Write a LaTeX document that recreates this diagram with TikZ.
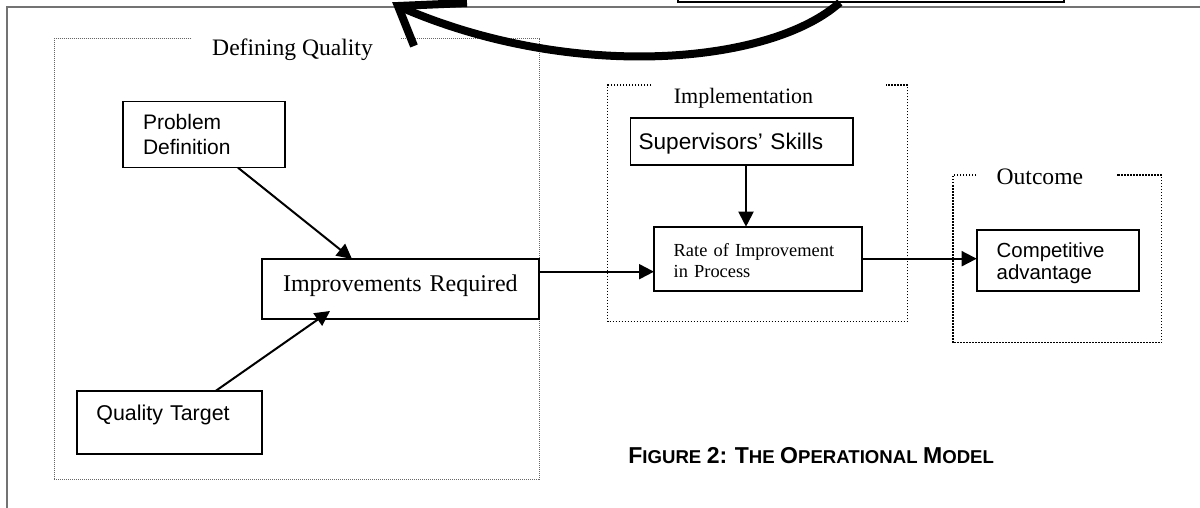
\documentclass[tikz,border=0pt]{standalone}
\usepackage{fontspec}
\setmainfont{Liberation Serif}
\newfontfamily\arial{Liberation Sans}
\usetikzlibrary{arrows.meta,calc}
\newcommand\fsz[2]{\fontsize{#1pt}{#2pt}\selectfont}
\newcommand\capsc[2]{{\fsz{11.5}{13}#1}{\fsz{9.3}{13}#2}}
\begin{document}
\begin{tikzpicture}[x=0.5pt,y=-0.5pt,
  box/.style={draw,line width=0.8pt,inner ysep=0pt,outer sep=0pt,anchor=north west,align=left},
  conn/.style={line width=1pt,-{Triangle[length=7.5pt,width=7.5pt]}},
  frameline/.style={draw=black!55,line width=1pt},
  dqbox/.style={draw=black!60,line width=0.5pt,dash pattern=on 0.5pt off 0.5pt},
  dotbox/.style={draw=black,line width=0.75pt,dash pattern=on 0.75pt off 0.75pt},
  title/.style={anchor=base,inner sep=0pt},
  bigline/.style={line width=4pt},
  bighead/.style={line width=4pt,line join=miter,miter limit=10}
]
\useasboundingbox (0,0) rectangle (1200,508);
\fill[white] (0,0) rectangle (1200,508);

% outer frame
\draw[frameline] (1210,7) -- (7,7) -- (7,520);

% top (cut-off) box
\node[draw,line width=1pt,outer sep=0pt,minimum width=193.15pt,minimum height=20pt,anchor=south west,fill=white] (top) at (677.7,2.5) {};

% group frames
\draw[dqbox] (191.3,39) -- (54,39) -- (54,479.3) -- (539,479.3) -- (539,39) -- (400,39);
\draw[dotbox] (651,85) -- (607.7,85) -- (607.7,321.7) -- (907.4,321.7) -- (907.4,85) -- (886.4,85);
\draw[dotbox] (976,175) -- (953,175) -- (953,342.7) -- (1161.7,342.7) -- (1161.7,175) -- (1116.7,175);

% group titles
\node[title,font=\fsz{11.8}{14}] (dqt) at (292.5,56) {Defining Quality};
\node[title,font=\fsz{11}{13}] (imt) at (743.5,104) {Implementation};
\node[title,font=\fsz{11.8}{14}] (out) at (1039.85,184.5) {Outcome};

% boxes
\node[box,inner xsep=10.15pt,text width=60.85pt,text height=14.15pt,text depth=18.85pt,font=\arial\fsz{10.5}{12.5}] (pd) at (122.7,101.7) {Problem\\Definition};
\node[box,align=center,inner xsep=5pt,text width=128.65pt,text height=16pt,text depth=14pt,font=\fsz{12}{14}] (ir) at (261.7,259) {Improvements Required};
\node[box,inner xsep=9.7pt,text width=73.15pt,text height=14.8pt,text depth=16.85pt,font=\arial\fsz{10.7}{12.5}] (qt) at (77,390.7) {Quality Target};
\node[box,inner xsep=4pt,text width=103.1pt,text height=15.35pt,text depth=8pt,font=\arial\fsz{11.3}{13}] (sup) at (630.6,118.3) {Supervisors’ Skills};
\node[box,inner xsep=9.85pt,text width=84.3pt,text height=15pt,text depth=17pt,font=\fsz{9.2}{10.5}] (rate) at (654,226.7) {Rate of Improvement\\in Process};
\node[box,inner xsep=10pt,text width=61.15pt,text height=13.5pt,text depth=16.85pt,font=\arial\fsz{10.2}{11.35}] (comp) at (976.7,230) {Competitive\\advantage};

% caption
\node[anchor=base west,inner sep=0pt,font=\arial\bfseries] (cap) at (628,463.3) {\capsc{F}{IGURE} \capsc{2:}{} \capsc{T}{HE} \capsc{O}{PERATIONAL} \capsc{M}{ODEL}};

% connectors
\draw[conn] ($(pd.south)+(34.15,0)$) -- ($(ir.north)+(-48.35,0)$);
\draw[conn] ($(qt.north)+(46.45,0)$) -- ($(ir.south)+(-70.35,-8)$);
\coordinate (rin) at ($(rate.west)+(0,13)$);
\draw[conn] (rin -| ir.east) -- (rin);
\coordinate (sx) at ($(sup.south)+(4.3,0)$);
\draw[conn] (sx) -- (sx |- rate.north);
\draw[conn] (rate.east) -- (rate.east -| comp.west);

% big feedback arrow
\coordinate (tip) at (398,6);
\coordinate (c1) at (770,65);
\coordinate (c2) at (570,82);
\coordinate (barbA) at (467,3);
\coordinate (barbB) at (414,46);
\draw[bigline] ($(top.south)+(-31,0)$) .. controls (c1) and (c2) .. (tip);
\draw[bighead] (barbA) -- (tip) -- (barbB);
\end{tikzpicture}
\end{document}
